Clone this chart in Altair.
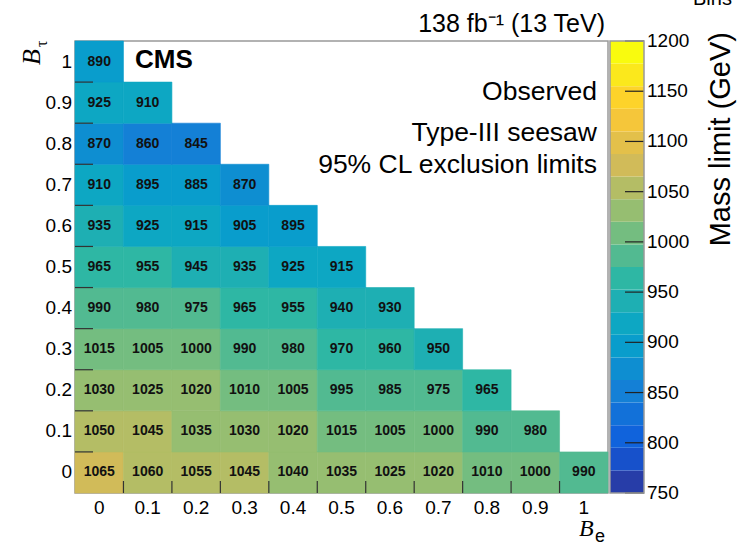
import altair as alt
import numpy as np
import pandas as pd

# ---------------- data ----------------
b_values = [0.0, 0.1, 0.2, 0.3, 0.4, 0.5, 0.6, 0.7, 0.8, 0.9, 1.0]
b_labels = ["0", "0.1", "0.2", "0.3", "0.4", "0.5", "0.6", "0.7", "0.8", "0.9", "1"]

# observed mass limits (GeV); one list per B_tau row, entries along B_e
mass_bt_00 = [1065, 1060, 1055, 1045, 1040, 1035, 1025, 1020, 1010, 1000, 990]
mass_bt_01 = [1050, 1045, 1035, 1030, 1020, 1015, 1005, 1000, 990, 980]
mass_bt_02 = [1030, 1025, 1020, 1010, 1005, 995, 985, 975, 965]
mass_bt_03 = [1015, 1005, 1000, 990, 980, 970, 960, 950]
mass_bt_04 = [990, 980, 975, 965, 955, 940, 930]
mass_bt_05 = [965, 955, 945, 935, 925, 915]
mass_bt_06 = [935, 925, 915, 905, 895]
mass_bt_07 = [910, 895, 885, 870]
mass_bt_08 = [870, 860, 845]
mass_bt_09 = [925, 910]
mass_bt_10 = [890]

cbar_min, cbar_max, n_levels = 750, 1200, 20
cbar_ticks = [750, 800, 850, 900, 950, 1000, 1050, 1100, 1150, 1200]

rows = [mass_bt_00, mass_bt_01, mass_bt_02, mass_bt_03, mass_bt_04, mass_bt_05,
        mass_bt_06, mass_bt_07, mass_bt_08, mass_bt_09, mass_bt_10]

records = []
for j, row in enumerate(rows):
    for i, v in enumerate(row):
        records.append({"be": b_values[i], "bt": b_values[j], "mass": v})
heat_df = pd.DataFrame(records)

half = 0.05
edges_df = pd.DataFrame({"e": [b + half for b in b_values[:-1]]})
blab_df = pd.DataFrame({"b": b_values, "lab": b_labels})

# ---------------- ROOT kBird palette, 20 contour levels ----------------
bird_stops = [0.0, 0.125, 0.25, 0.375, 0.5, 0.625, 0.75, 0.875, 1.0]
bird_r = [0.2082, 0.0592, 0.0780, 0.0232, 0.1802, 0.5301, 0.8186, 0.9956, 0.9764]
bird_g = [0.1664, 0.3599, 0.5041, 0.6419, 0.7178, 0.7492, 0.7328, 0.7862, 0.9832]
bird_b = [0.5293, 0.8684, 0.8385, 0.7914, 0.6425, 0.4662, 0.3499, 0.1968, 0.0539]


def bird(f):
    return "#%02x%02x%02x" % tuple(
        int(round(float(np.interp(f, bird_stops, c)) * 255)) for c in (bird_r, bird_g, bird_b)
    )


palette = [bird(int((i + 0.99) * 255 / n_levels) / 254) for i in range(n_levels)]
step = (cbar_max - cbar_min) / n_levels
thresholds = [cbar_min + step * k for k in range(1, n_levels)]
bands_df = pd.DataFrame({
    "lo": [cbar_min + step * k for k in range(n_levels)],
    "hi": [cbar_min + step * (k + 1) for k in range(n_levels)],
})
bands_df["mid"] = (bands_df["lo"] + bands_df["hi"]) / 2
ticks_df = pd.DataFrame({"v": cbar_ticks, "lab": [str(t) for t in cbar_ticks]})
outline_df = pd.DataFrame({"lo": [cbar_min], "hi": [cbar_max]})

color_scale = alt.Scale(type="threshold", domain=thresholds, range=palette)

# ---------------- layout constants ----------------
W, H = 533, 452
FONT = "Liberation Sans"
SERIF = "Liberation Serif"
LABEL_SIZE = 19

x_scale = alt.Scale(domain=[-0.05, 1.05], nice=False, zero=False)
y_scale = alt.Scale(domain=[-0.05, 1.05], nice=False, zero=False)

base = alt.Chart(heat_df).transform_calculate(
    x0=f"datum.be - {half}", x1=f"datum.be + {half}",
    y0=f"datum.bt - {half}", y1=f"datum.bt + {half}",
)

rects = base.mark_rect(strokeWidth=0.6).encode(
    x=alt.X("x0:Q", scale=x_scale, axis=None),
    x2="x1:Q",
    y=alt.Y("y0:Q", scale=y_scale, axis=None),
    y2="y1:Q",
    color=alt.Color("mass:Q", scale=color_scale, legend=None),
    stroke=alt.Color("mass:Q", scale=color_scale, legend=None),
)

labels = base.mark_text(font=FONT, fontWeight="bold", fontSize=14, color="#111").encode(
    x=alt.X("be:Q", scale=x_scale, axis=None),
    y=alt.Y("bt:Q", scale=y_scale, axis=None),
    text=alt.Text("mass:Q", format="d"),
)

xticks = alt.Chart(edges_df).mark_rule(color="#333", strokeWidth=1.2).encode(
    x=alt.X("e:Q", scale=x_scale, axis=None),
    y=alt.value(H), y2=alt.value(H - 12),
)
yticks = alt.Chart(edges_df).mark_rule(color="#333", strokeWidth=1.2).encode(
    y=alt.Y("e:Q", scale=y_scale, axis=None),
    x=alt.value(0), x2=alt.value(18),
)

# axis tick labels, placed through the scales
xlabels = alt.Chart(blab_df).mark_text(font=FONT, fontSize=LABEL_SIZE, color="#000",
                                        align="center", baseline="top").encode(
    x=alt.X("b:Q", scale=x_scale, axis=None),
    y=alt.value(H + 6),
    text="lab:N",
)
ylabels = alt.Chart(blab_df).mark_text(font=FONT, fontSize=LABEL_SIZE, color="#000",
                                        align="right", baseline="middle").encode(
    y=alt.Y("b:Q", scale=y_scale, axis=None),
    x=alt.value(-3),
    text="lab:N",
)

heat_layer = alt.layer(rects, labels, xticks, yticks, xlabels, ylabels)

# ---------------- colour bar ----------------
cb_scale = alt.Scale(domain=[cbar_min, cbar_max], nice=False, zero=False)
CB_X0, CB_X1 = 535, 569

cb_bands = alt.Chart(bands_df).mark_rect().encode(
    y=alt.Y("lo:Q", scale=cb_scale, axis=None),
    y2="hi:Q",
    x=alt.value(CB_X0), x2=alt.value(CB_X1),
    color=alt.Color("mid:Q", scale=color_scale, legend=None),
)
cb_ticks = alt.Chart(ticks_df).mark_rule(color="#222", strokeWidth=1.2).encode(
    y=alt.Y("v:Q", scale=cb_scale, axis=None),
    x=alt.value(CB_X1 - 19), x2=alt.value(CB_X1),
)
cb_labels = alt.Chart(ticks_df).mark_text(font=FONT, fontSize=LABEL_SIZE, color="#000",
                                           align="left", baseline="middle").encode(
    y=alt.Y("v:Q", scale=cb_scale, axis=None),
    x=alt.value(CB_X1 + 3),
    text="lab:N",
)
cb_outline = alt.Chart(outline_df).mark_rect(fillOpacity=0, stroke="#999", strokeWidth=1.5).encode(
    y=alt.Y("lo:Q", scale=cb_scale, axis=None),
    y2="hi:Q",
    x=alt.value(CB_X0), x2=alt.value(CB_X1),
)
cbar_layer = alt.layer(cb_bands, cb_ticks, cb_outline, cb_labels)

# ---------------- annotations ----------------
one = pd.DataFrame({"k": [0]})


def note(text, x, y, size, align="left", weight="normal", font=FONT, angle=0, style="normal"):
    kw = dict(font=font, fontSize=size, align=align, baseline="alphabetic",
              fontWeight=weight, color="#000", fontStyle=style)
    if angle:
        kw["angle"] = angle
    return alt.Chart(one).mark_text(**kw).encode(
        x=alt.value(x), y=alt.value(y), text=alt.value(text))


notes = [
    note("CMS", 60, 27, 26, weight="bold"),
    note("Observed", 522, 59, 26.5, align="right"),
    note("Type-III seesaw", 522, 100, 26.5, align="right"),
    note("95% CL exclusion limits", 522, 132, 26.5, align="right"),
    note("138 fb\u207b\u00b9 (13 TeV)", 530, -9, 25, align="right"),
    note("Bins", 618, -36, 20),
    note("Mass limit (GeV)", 655, -9, 29, align="right", angle=270),
    note("B", -35, 24, 26, font=SERIF, style="italic", angle=270),
    note("\u03c4", -28, 6, 16, font=SERIF, angle=270),
    note("B", 504, 495, 24, font=SERIF, style="italic"),
    note("e", 520, 501, 18),
]

chart = alt.layer(heat_layer, cbar_layer, *notes).resolve_scale(y="independent").properties(
    width=W, height=H,
    autosize=alt.AutoSizeParams(type="none"),
    padding={"left": 75, "top": 41, "right": 739 - 75 - W, "bottom": 543 - 41 - H},
    background="white",
).configure_view(stroke="#999", strokeWidth=1.5)

chart.save("out.html", embed_options={"renderer": "svg", "actions": False})
